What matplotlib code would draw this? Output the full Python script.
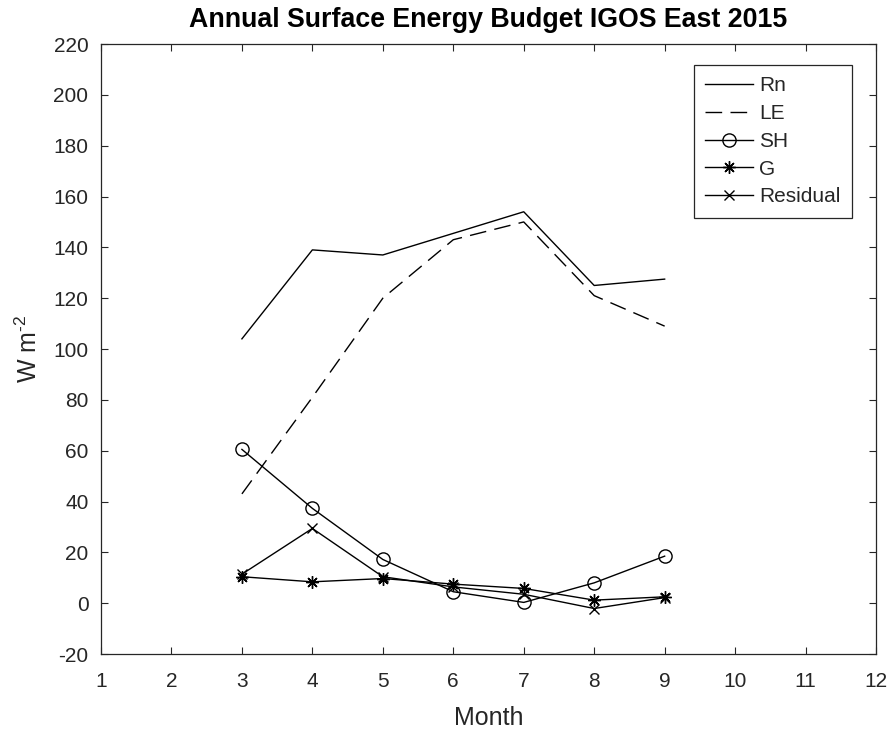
import matplotlib
matplotlib.use("Agg")
import matplotlib.pyplot as plt

plt.rcParams['font.family'] = ['Liberation Sans', 'DejaVu Sans']
plt.rcParams['axes.unicode_minus'] = False
plt.rcParams['mathtext.fontset'] = 'custom'
plt.rcParams['mathtext.rm'] = 'Liberation Sans'
plt.rcParams['mathtext.default'] = 'regular'

months = [3, 4, 5, 6, 7, 8, 9]
rn = [104, 139, 137, 145.5, 154, 125, 127.5]
le = [43, 81, 120, 143, 150, 121, 109]
sh = [60.5, 37.3, 17.2, 4.5, 0.3, 8, 18.5]
g = [10.4, 8.4, 9.7, 7.5, 5.8, 1.2, 2.5]
residual = [11.4, 29.4, 10.4, 6.4, 3.5, -2.1, 2.2]

xticks = list(range(1, 13))
yticks = list(range(-20, 221, 20))

ink = '#262626'

fig = plt.figure(figsize=(8.93, 7.30), dpi=100)
ax = fig.add_axes([0.1131, 0.1041, 0.8679, 0.8356])

lw = 1.0
ax.plot(months, rn, color='k', lw=lw, label='Rn')
ax.plot(months, le, color='k', lw=lw, ls=(0, (12, 6)), label='LE')
ax.plot(months, sh, color='k', lw=lw, marker='o', ms=9.5, mfc='none',
        mew=1.0, label='SH')
ax.plot(months, g, color='k', lw=lw, marker=(8, 2, 0), ms=9, mew=1.0,
        label='G')
ax.plot(months, residual, color='k', lw=lw, marker='x', ms=6.5, mew=1.0,
        label='Residual')

ax.set_xlim(1, 12)
ax.set_ylim(-20, 220)
ax.set_xticks(xticks)
ax.set_yticks(yticks)
ax.tick_params(direction='in', length=5, width=0.8, colors=ink,
               labelsize=15, top=True, right=True)
ax.tick_params(axis='x', pad=13)
ax.tick_params(axis='y', pad=9)
for s in ax.spines.values():
    s.set_color(ink)
    s.set_linewidth(0.9)

ax.set_xlabel('Month', fontsize=18, color=ink, labelpad=11)
ax.set_ylabel('W m$^{\u2010 2}$', fontsize=18, color=ink, labelpad=8)
ax.set_title('Annual Surface Energy Budget IGOS East 2015', fontsize=19.3,
             fontweight='bold', color='k', pad=12)

leg = ax.legend(loc='upper right', bbox_to_anchor=(0.969, 0.9656),
                fontsize=15, handlelength=2.3, handletextpad=0.3,
                labelspacing=0.42, borderpad=0.55, borderaxespad=0,
                fancybox=False, framealpha=1, edgecolor=ink)
leg.get_frame().set_linewidth(0.9)
for t in leg.get_texts():
    t.set_color(ink)

fig.savefig('out.png', dpi=100)
